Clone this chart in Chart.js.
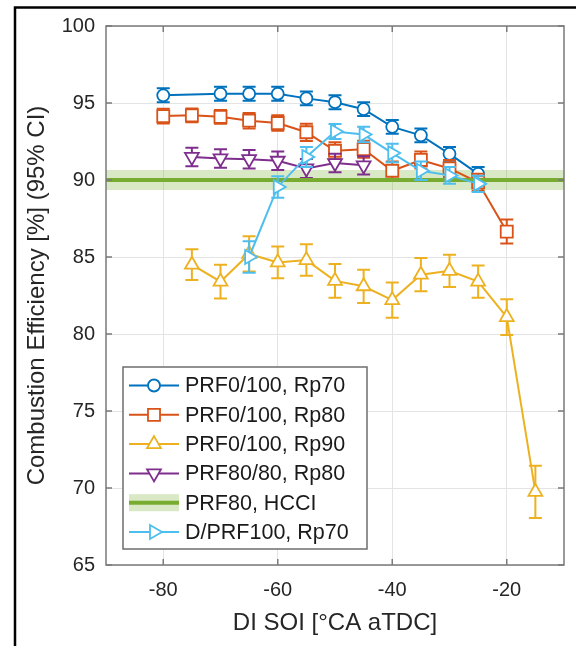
<!DOCTYPE html>
<html>
<head>
<meta charset="utf-8">
<script src="https://cdn.jsdelivr.net/npm/chart.js@4.4.1/dist/chart.umd.min.js"></script>
<style>
  html, body { margin: 0; padding: 0; background: #fff; }
  canvas { display: block; }
</style>
</head>
<body>
<canvas id="eff" width="576" height="646"></canvas>
<script>
// DI start of injection [°CA aTDC] and combustion efficiency [%] with 95% CI half-widths
const soiA = [-80, -70, -65, -60, -55, -50, -45, -40, -35, -30, -25];
const effA = [95.5, 95.6, 95.6, 95.6, 95.3, 95.05, 94.6, 93.45, 92.9, 91.7, 90.4];
const ciA  = [0.45, 0.45, 0.45, 0.45, 0.45, 0.45, 0.45, 0.45, 0.45, 0.45, 0.45];

const soiB = [-80, -75, -70, -65, -60, -55, -50, -45, -40, -35, -30, -25, -20];
const effB = [94.15, 94.2, 94.1, 93.85, 93.7, 93.1, 91.9, 92.0, 90.6, 91.3, 90.75, 89.85, 86.65];
const ciB  = [0.48, 0.45, 0.45, 0.5, 0.5, 0.56, 0.55, 0.55, 0.6, 0.55, 0.55, 0.55, 0.78];

const soiC = [-75, -70, -65, -60, -55, -50, -45, -40, -35, -30, -25, -20, -15];
const effC = [84.5, 83.4, 85.2, 84.65, 84.8, 83.45, 83.1, 82.2, 83.85, 84.1, 83.4, 81.1, 69.75];
const ciC  = [1.0, 1.1, 1.14, 1.03, 1.02, 1.1, 1.08, 1.15, 1.08, 1.05, 1.05, 1.16, 1.7];

const soiD = [-75, -70, -65, -60, -55, -50, -45];
const effD = [91.5, 91.4, 91.35, 91.25, 90.75, 91.1, 90.95];
const ciD  = [0.6, 0.6, 0.6, 0.6, 0.62, 0.6, 0.6];

const soiE = [-65, -60, -55, -50, -45, -40, -35, -30, -25];
const effE = [85.0, 89.55, 91.5, 93.15, 92.95, 91.75, 90.6, 90.3, 89.75];
const ciE  = [1.03, 0.7, 0.65, 0.48, 0.5, 0.6, 0.6, 0.55, 0.53];

// HCCI reference level and its confidence band
const hcciSpan = [-90, -10];
const hcciEff = 90;
const hcciCi = 0.65;

const xTicks = [-80, -60, -40, -20];
const yTicks = [65, 70, 75, 80, 85, 90, 95, 100];

const labels = ['PRF0/100, Rp70', 'PRF0/100, Rp80', 'PRF0/100, Rp90',
                'PRF80/80, Rp80', 'PRF80, HCCI', 'D/PRF100, Rp70'];

const C = {
  blue:   '#0072BD',
  orange: '#D95319',
  yellow: '#EDB120',
  purple: '#7E2F8E',
  green:  '#77AC30',
  sky:    '#4DBEEE',
  band:   'rgba(119,172,48,0.28)'
};

const FONT = "'Liberation Sans', Arial, Helvetica, sans-serif";

function series(label, xs, ys, ci, color, style, radius, rotation, order) {
  return {
    label, ci, order,
    data: xs.map((x, i) => ({ x, y: ys[i] })),
    showLine: true,
    borderColor: color,
    borderWidth: 2,
    pointStyle: style,
    pointRadius: radius,
    pointRotation: rotation,
    pointBorderWidth: 1.8,
    pointBorderColor: color,
    pointBackgroundColor: '#fff'
  };
}

const datasets = [
  {
    label: 'band', order: 20,
    data: hcciSpan.map(x => ({ x, y: hcciEff + hcciCi })),
    showLine: true, borderWidth: 0, pointRadius: 0,
    backgroundColor: C.band,
    fill: { value: hcciEff - hcciCi }
  },
  series(labels[0], soiA, effA, ciA, C.blue,   'circle',   6,   0,   6),
  series(labels[1], soiB, effB, ciB, C.orange, 'rect',     8.5, 0,   5),
  series(labels[2], soiC, effC, ciC, C.yellow, 'triangle', 8,   0,   4),
  series(labels[3], soiD, effD, ciD, C.purple, 'triangle', 8,   180, 3),
  {
    label: labels[4], order: 2,
    data: hcciSpan.map(x => ({ x, y: hcciEff })),
    showLine: true, borderColor: C.green, borderWidth: 4, pointRadius: 0
  },
  series(labels[5], soiE, effE, ciE, C.sky,    'triangle', 8,   90,  1)
];

// vertical 95% CI bars with caps, drawn just under each series
const errorBars = {
  id: 'errorBars',
  beforeDatasetDraw(chart, args) {
    const ds = chart.data.datasets[args.index];
    if (!ds.ci) return;
    const { ctx, chartArea: a, scales: { x, y } } = chart;
    const cap = 6.5;
    ctx.save();
    ctx.beginPath();
    ctx.rect(a.left, a.top, a.right - a.left, a.bottom - a.top);
    ctx.clip();
    ctx.strokeStyle = ds.borderColor;
    ctx.lineWidth = 2;
    ds.data.forEach((p, i) => {
      const px = x.getPixelForValue(p.x);
      const hi = y.getPixelForValue(p.y + ds.ci[i]);
      const lo = y.getPixelForValue(p.y - ds.ci[i]);
      ctx.beginPath();
      ctx.moveTo(px, hi); ctx.lineTo(px, lo);
      ctx.moveTo(px - cap, hi); ctx.lineTo(px + cap, hi);
      ctx.moveTo(px - cap, lo); ctx.lineTo(px + cap, lo);
      ctx.stroke();
    });
    ctx.restore();
  }
};

// axes box with inward ticks, figure frame, legend
const frame = {
  id: 'frame',
  afterDatasetsDraw(chart) {
    const { ctx, chartArea: a, scales: { x, y } } = chart;
    ctx.save();
    ctx.strokeStyle = '#7a7a7a';
    ctx.lineWidth = 1.5;
    ctx.strokeRect(a.left, a.top, a.right - a.left, a.bottom - a.top);
    ctx.beginPath();
    const t = 6;
    xTicks.forEach(v => {
      const px = x.getPixelForValue(v);
      ctx.moveTo(px, a.bottom); ctx.lineTo(px, a.bottom - t);
      ctx.moveTo(px, a.top); ctx.lineTo(px, a.top + t);
    });
    yTicks.forEach(v => {
      const py = y.getPixelForValue(v);
      ctx.moveTo(a.left, py); ctx.lineTo(a.left + t, py);
      ctx.moveTo(a.right, py); ctx.lineTo(a.right - t, py);
    });
    ctx.stroke();
    ctx.restore();
  },
  afterDraw(chart) {
    const { ctx } = chart;
    ctx.save();
    // figure outline
    ctx.strokeStyle = '#000';
    ctx.lineWidth = 2.5;
    ctx.beginPath();
    ctx.moveTo(15, chart.height); ctx.lineTo(15, 7.5); ctx.lineTo(chart.width, 7.5);
    ctx.stroke();

    // legend
    const bx = 123, by = 367, bw = 244, bh = 182;
    ctx.fillStyle = '#fff';
    ctx.fillRect(bx, by, bw, bh);
    ctx.strokeStyle = '#6e6e6e';
    ctx.lineWidth = 1.5;
    ctx.strokeRect(bx, by, bw, bh);
    const rowH = 29.3, y0 = 385.5;
    ctx.font = '21.5px ' + FONT;
    ctx.textBaseline = 'middle';
    ctx.textAlign = 'left';
    labels.forEach((text, i) => {
      const ly = y0 + i * rowH;
      const ds = chart.data.datasets.find(d => d.label === text);
      if (text === labels[4]) {
        ctx.fillStyle = C.band;
        ctx.fillRect(129, ly - 8.5, 50, 17);
      }
      ctx.strokeStyle = ds.borderColor;
      ctx.lineWidth = ds.borderWidth;
      ctx.beginPath();
      ctx.moveTo(129, ly); ctx.lineTo(179, ly);
      ctx.stroke();
      if (ds.pointRadius) {
        ctx.fillStyle = '#fff';
        ctx.lineWidth = ds.pointBorderWidth;
        Chart.helpers.drawPoint(ctx, {
          pointStyle: ds.pointStyle,
          rotation: ds.pointRotation,
          radius: ds.pointRadius,
          borderWidth: ds.pointBorderWidth
        }, 154, ly);
      }
      ctx.fillStyle = '#1a1a1a';
      ctx.fillText(text, 185, ly + 1);
    });
    ctx.restore();
  }
};

new Chart(document.getElementById('eff'), {
  type: 'scatter',
  data: { datasets },
  plugins: [errorBars, frame],
  options: {
    responsive: false,
    animation: false,
    events: [],
    layout: { padding: { left: 0, right: 12, top: 26, bottom: 0 } },
    plugins: { legend: { display: false }, tooltip: { enabled: false } },
    scales: {
      x: {
        type: 'linear', min: -90, max: -10,
        afterBuildTicks: s => { s.ticks = xTicks.map(value => ({ value })); },
        afterFit: s => { s.height = 81; },
        grid: { color: '#e4e4e4', lineWidth: 1, drawTicks: false },
        border: { display: false },
        ticks: { color: '#262626', padding: 13, font: { family: FONT, size: 20 } },
        title: {
          display: true, text: 'DI SOI [°CA aTDC]', color: '#262626',
          padding: { top: 0, bottom: 8 }, font: { family: FONT, size: 24 }
        }
      },
      y: {
        type: 'linear', min: 65, max: 100,
        afterBuildTicks: s => { s.ticks = yTicks.map(value => ({ value })); },
        afterFit: s => { s.width = 106; },
        grid: { color: '#e4e4e4', lineWidth: 1, drawTicks: false },
        border: { display: false },
        ticks: { color: '#262626', padding: 11, font: { family: FONT, size: 20 } },
        title: {
          display: true, text: 'Combustion Efficiency [%] (95% CI)', color: '#262626',
          padding: { top: 23, bottom: 0 }, font: { family: FONT, size: 24 }
        }
      }
    }
  }
});
</script>
</body>
</html>
